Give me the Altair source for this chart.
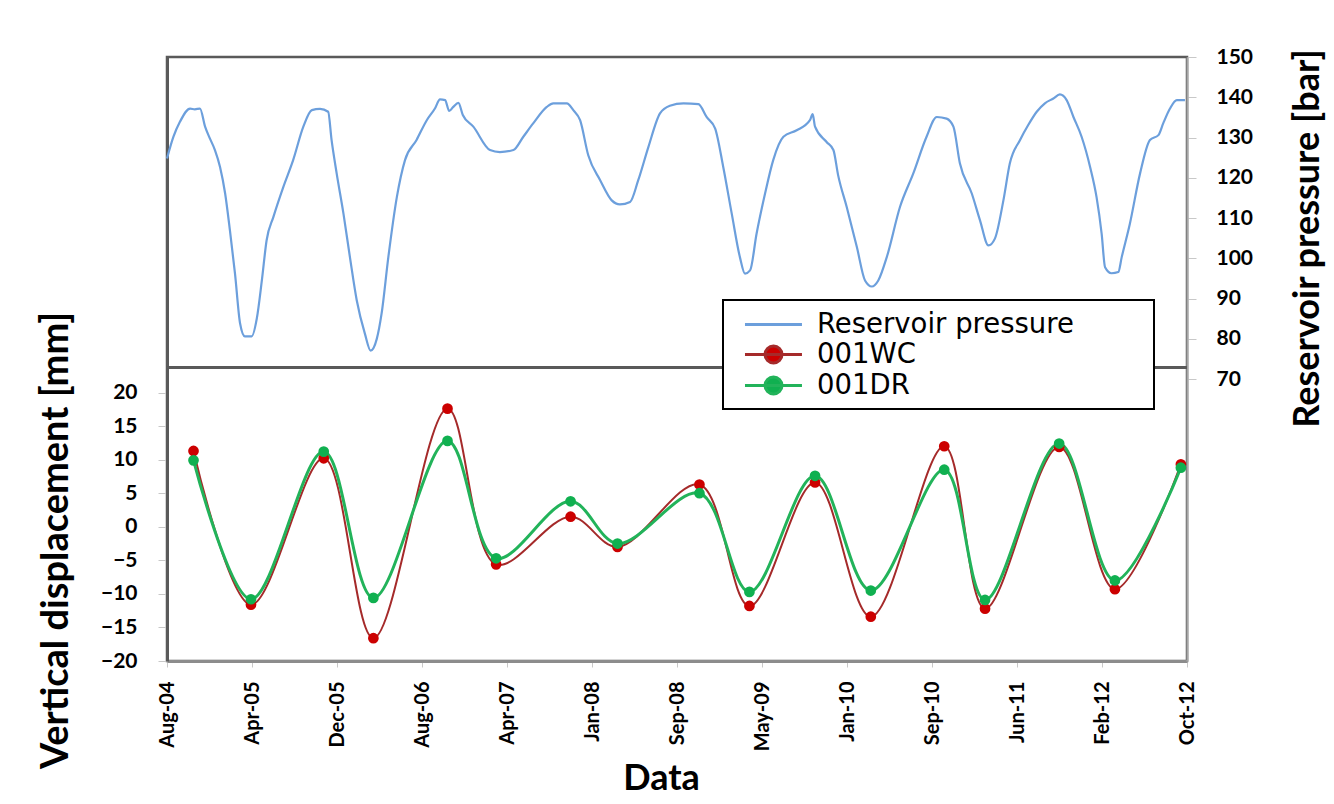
import altair as alt
import pandas as pd

# ---------------- data ----------------
START = "2004-08-01"  # x positions below are stored as days after this date

tick_dates = ["2004-08-01", "2005-04-08", "2005-12-14", "2006-08-21", "2007-04-28",
              "2008-01-03", "2008-09-09", "2009-05-17", "2010-01-22", "2010-09-29",
              "2011-06-06", "2012-02-11", "2012-10-18"]

pressure_day = [0, 19, 38, 68, 82, 97, 112, 126, 141, 156, 171, 185, 200, 215, 229, 249,
                264, 279, 293, 313, 342, 371, 401, 426, 450, 474, 484, 499, 519, 538,
                558, 582, 599, 617, 631, 651, 676, 700, 734, 764, 788, 803, 818, 830,
                842, 857, 870, 901, 950, 979, 1019, 1048, 1077, 1117, 1136, 1176, 1195,
                1215, 1239, 1274, 1308, 1332, 1362, 1386, 1416, 1450, 1479, 1519, 1563,
                1587, 1612, 1636, 1661, 1685, 1700, 1715, 1734, 1759, 1783, 1813, 1852,
                1891, 1899, 1906, 1940, 1960, 1974, 1999, 2029, 2053, 2073, 2092, 2117,
                2156, 2195, 2234, 2264, 2293, 2313, 2332, 2367, 2391, 2416, 2435, 2460,
                2479, 2509, 2533, 2558, 2582, 2607, 2626, 2646, 2666, 2690, 2715, 2734,
                2749, 2759, 2778, 2798, 2808, 2832, 2862, 2891, 2916, 2930, 2950, 2970,
                2994]
pressure_bar = [124.8, 130.2, 133.9, 137.2, 137.0, 137.2, 132.7, 129.8, 126.9, 122.7, 116.1,
                107.0, 96.2, 83.8, 80.6, 80.6, 85.0, 94.5, 104.5, 110.3, 117.7, 124.4,
                132.7, 136.8, 137.1, 136.4, 129.4, 121.1, 111.1, 100.3, 89.6, 81.3, 77.1,
                80.0, 86.2, 100.3, 115.2, 124.4, 129.4, 134.3, 137.2, 139.5, 139.3, 136.6,
                137.6, 138.6, 135.6, 132.7, 126.9, 126.4, 126.9, 130.2, 133.5, 137.6,
                138.5, 138.5, 136.8, 134.3, 125.6, 119.4, 114.4, 113.4, 114.0, 119.4,
                127.7, 136.0, 137.9, 138.5, 138.3, 135.1, 132.3, 122.7, 111.1, 100.3,
                96.2, 97.0, 106.1, 116.1, 124.4, 130.2, 131.8, 134.3, 135.8, 132.7, 128.9,
                126.9, 120.6, 112.8, 102.8, 94.5, 93.0, 94.5, 100.3, 112.8, 121.1, 130.2,
                135.1, 134.7, 132.7, 123.6, 116.1, 109.5, 103.2, 104.9, 114.4, 123.6,
                129.4, 133.1, 136.4, 138.5, 139.7, 140.7, 139.3, 135.1, 130.2, 122.7,
                115.2, 106.1, 97.8, 96.3, 96.6, 100.3, 108.6, 121.1, 129.4, 130.6, 133.5,
                137.2, 139.3, 139.3]

disp_day = [78, 247, 461, 607, 825, 968, 1187, 1325, 1566, 1713, 1906, 2070, 2286,
            2406, 2624, 2788, 2982]
wc_mm = [11.3, -11.6, 10.2, -16.6, 17.6, -5.6, 1.5, -3.0, 6.3, -11.8, 6.6, -13.4, 12.0,
         -12.2, 11.9, -9.3, 9.3]
dr_mm = [9.9, -10.8, 11.2, -10.6, 12.8, -4.7, 3.8, -2.5, 5.0, -9.7, 7.6, -9.5, 8.5,
         -10.9, 12.4, -8.0, 8.8]

series_names = ["Reservoir pressure", "001WC", "001DR"]
divider_mm = 23.7          # horizontal separator line (left-axis units)
left_ticks = [-20, -15, -10, -5, 0, 5, 10, 15, 20]
right_ticks = [70, 80, 90, 100, 110, 120, 130, 140, 150]

# ---------------- colours ----------------
BLUE = "#6C9FDC"
RED_LINE = "#A52A2A"
RED_PT = "#CC0000"
GREEN_LINE = "#22B35A"
GREEN_PT = "#10B050"

# ---------------- tables ----------------
start = pd.Timestamp(START)
def to_date(d):
    return (start + pd.Timedelta(days=d)).strftime("%Y-%m-%d")

pdf = pd.DataFrame({"date": [to_date(d) for d in pressure_day], "pressure": pressure_bar})
ddf = pd.concat([
    pd.DataFrame({"date": [to_date(d) for d in disp_day], "value": wc_mm, "series": "001WC"}),
    pd.DataFrame({"date": [to_date(d) for d in disp_day], "value": dr_mm, "series": "001DR"}),
], ignore_index=True)

tick_ms = [int(pd.Timestamp(t, tz="UTC").timestamp() * 1000) for t in tick_dates]

FONT = "Lato"

X = alt.X("date:T",
          scale=alt.Scale(type="utc", domain=[tick_ms[0], tick_ms[-1]]),
          axis=alt.Axis(values=tick_ms, labelExpr="utcFormat(datum.value, '%b-%y')",
                        labelAngle=270,
                        labelFont=FONT, labelFontWeight="bold", labelFontSize=20,
                        labelColor="black", labelPadding=14, tickSize=6, tickColor="#c8c8c8",
                        domainColor="#8c8c8c", domainWidth=3, grid=False,
                        title="Data", titleFont=FONT, titleFontSize=36, titleFontWeight="bold",
                        titleColor="black", titleX=494, titleY=117, titleBaseline="middle",
                        titleAnchor="middle"))

Y_disp = alt.Y("value:Q",
               scale=alt.Scale(domain=[-20, 70], nice=False, zero=False),
               axis=alt.Axis(values=left_ticks, orient="left", labelFont=FONT,
                             labelFontWeight="bold", labelFontSize=21, labelColor="black",
                             labelPadding=21, tickSize=9, tickColor="#c8c8c8",
                             domainColor="#5a5a5a", domainWidth=3, grid=False,
                             title="Vertical displacement [mm]", titleFont=FONT,
                             titleFontSize=38, titleFontWeight="bold", titleColor="black",
                             titleAngle=270, titleX=-111, titleY=483,
                             titleBaseline="middle", titleAlign="center"))

Y_pres = alt.Y("pressure:Q",
               scale=alt.Scale(domain=[0, 150], nice=False, zero=False),
               axis=alt.Axis(values=right_ticks, orient="right", labelFont=FONT,
                             labelFontWeight="bold", labelFontSize=21, labelColor="black",
                             labelPadding=20, tickSize=9, tickColor="#c8c8c8",
                             domainColor="#a6a6a6", domainWidth=2, grid=False,
                             title="Reservoir pressure [bar]", titleFont=FONT,
                             titleFontSize=36, titleFontWeight="bold", titleColor="black",
                             titleAngle=270, titleX=120, titleY=181,
                             titleBaseline="middle", titleAlign="center"))

pressure = alt.Chart(pdf).mark_line(color=BLUE, strokeWidth=2.2,
                                    interpolate="monotone").encode(x=X, y=Y_pres)

wc_line = alt.Chart(ddf).transform_filter("datum.series == '001WC'").mark_line(
    color=RED_LINE, strokeWidth=2, interpolate="catmull-rom").encode(x=X, y=Y_disp)
dr_line = alt.Chart(ddf).transform_filter("datum.series == '001DR'").mark_line(
    color=GREEN_LINE, strokeWidth=3, interpolate="catmull-rom").encode(x=X, y=Y_disp)

points = alt.Chart(ddf).mark_point(filled=True, size=115, opacity=1).encode(
    x=X, y=Y_disp,
    color=alt.Color("series:N", scale=alt.Scale(domain=["001WC", "001DR"],
                                                range=[RED_PT, GREEN_PT]), legend=None),
    order=alt.Order("series:N", sort="descending"))

divider = alt.Chart(ddf).mark_rule(color="#5a5a5a", strokeWidth=2).encode(
    y=alt.datum(divider_mm))

# legend symbols: a line (with a dot for the displacement series); the trailing
# move-to only widens the legend frame to the width seen in the reference
line_sym = "M-0.18,0L3.89,0M27.95,0"
dot_sym = ("M-0.18,0L3.89,0M2.464,0A0.607,0.607,0,1,1,1.25,0"
           "A0.607,0.607,0,1,1,2.464,0ZM27.95,0")
legend_kw = dict(title=None, orient="none", legendX=556, legendY=243, direction="vertical",
                 labelFont="DejaVu Sans", labelFontSize=27.5, labelColor="black",
                 labelLimit=600, labelOffset=54, symbolSize=784, symbolStrokeWidth=3,
                 symbolOpacity=1, fillColor="white", strokeColor="black", padding=9,
                 rowPadding=1)

legend_layer = alt.Chart(ddf).transform_filter("datum.value > 1000").mark_point(
    filled=True).encode(
    fill=alt.Fill("series:N", scale=alt.Scale(domain=series_names,
                                              range=[BLUE, RED_PT, GREEN_PT]),
                  legend=alt.Legend(**legend_kw)),
    stroke=alt.Stroke("series:N", scale=alt.Scale(domain=series_names,
                                                  range=[BLUE, RED_LINE, GREEN_LINE]),
                      legend=alt.Legend(**legend_kw)),
    shape=alt.Shape("series:N", scale=alt.Scale(domain=series_names,
                                                range=[line_sym, dot_sym, dot_sym]),
                    legend=alt.Legend(**legend_kw)))

disp = alt.layer(divider, wc_line, dr_line, points, legend_layer)

chart = alt.layer(pressure, disp).resolve_scale(y="independent").properties(
    width=1020, height=604,
    autosize=alt.AutoSizeParams(type="none"),
    padding={"left": 159, "top": 49, "right": 139, "bottom": 135},
).configure_view(stroke="#5a5a5a", strokeWidth=2.5).configure_legend(strokeWidth=2)

chart.save("out.html", embed_options={"renderer": "svg", "actions": False})
